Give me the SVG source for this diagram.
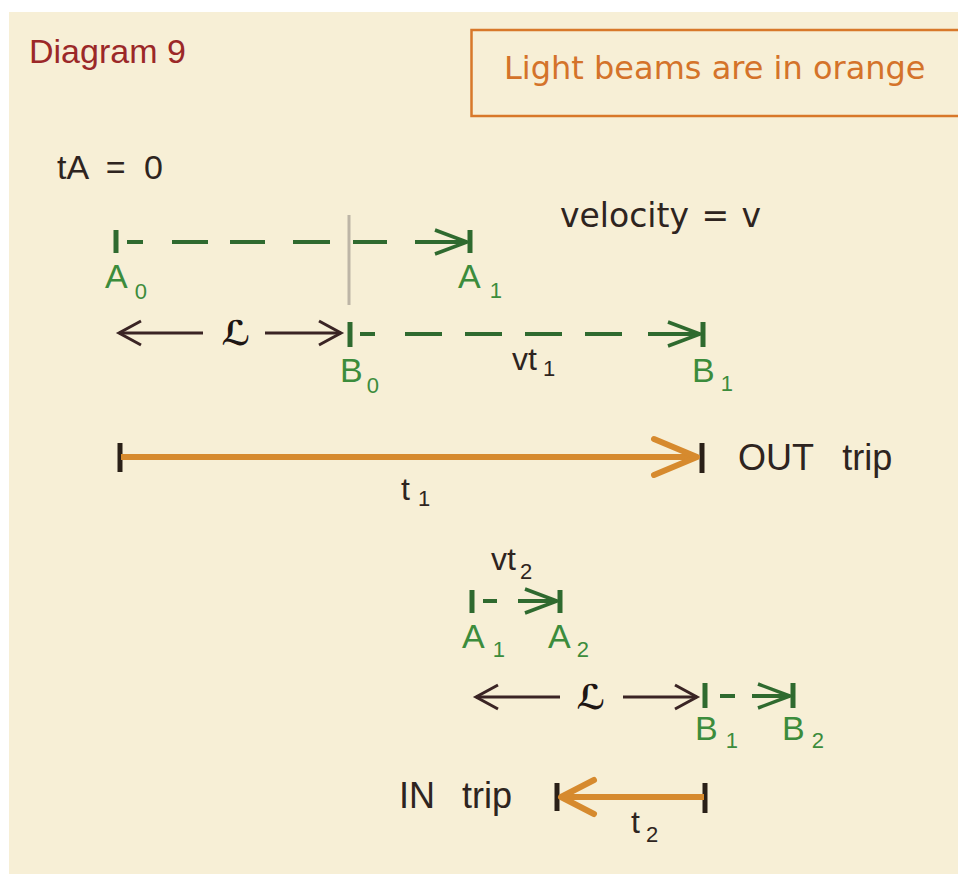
<svg xmlns="http://www.w3.org/2000/svg" width="958" height="874" viewBox="0 0 958 874">
<defs>
<style>
.bg{fill:#F7EFD6}
.sans{font-family:"Liberation Sans",Arial,sans-serif}
.dv{font-family:"DejaVu Sans",Verdana,sans-serif}
.lbl{font-family:"Liberation Sans",Arial,sans-serif;font-size:34px;fill:#3C8C3C}
.sub{font-size:22px}
.dark{fill:#2E2420}
.gtick{stroke:#2F6A2F;stroke-width:5;fill:none}
.dash{stroke:#2F6A2F;stroke-width:4;fill:none}
.larr{stroke:#3A2424;stroke-width:3;fill:none}
.beam{stroke:#D68A2E;stroke-width:6;fill:none}
.btick{stroke:#2A2018;stroke-width:5;fill:none}
.script{font-family:"DejaVu Serif","DejaVu Sans",serif;font-size:34px;font-weight:bold;font-style:italic;fill:#1E1614}
</style>
<marker id="gHead" markerUnits="userSpaceOnUse" markerWidth="40" markerHeight="32" refX="34" refY="15" orient="auto" overflow="visible">
<path d="M2,3 L34,15 L2,27" fill="none" stroke="#2F6A2F" stroke-width="3.5"/>
</marker>
<marker id="dHead" markerUnits="userSpaceOnUse" markerWidth="30" markerHeight="30" refX="24" refY="13" orient="auto" overflow="visible">
<path d="M2,1 L24,13 L2,25" fill="none" stroke="#3A2424" stroke-width="3"/>
</marker>
<marker id="oHead" markerUnits="userSpaceOnUse" markerWidth="50" markerHeight="40" refX="45" refY="19" orient="auto" overflow="visible">
<path d="M2,1 L45,19 L2,37" fill="none" stroke="#D68A2E" stroke-width="6" stroke-linejoin="round" stroke-linecap="round"/>
</marker>
<marker id="oHead2" markerUnits="userSpaceOnUse" markerWidth="40" markerHeight="40" refX="35" refY="19" orient="auto" overflow="visible">
<path d="M2,2 L35,19 L2,36" fill="none" stroke="#D68A2E" stroke-width="6" stroke-linejoin="round" stroke-linecap="round"/>
</marker>
</defs>

<rect class="bg" x="9" y="12" width="949" height="862"/>

<g id="title">
<text class="sans" x="29" y="63" font-size="34" fill="#9B2828">Diagram 9</text>
</g>

<g id="legend">
<rect x="471.5" y="30" width="500" height="86" fill="none" stroke="#D8782A" stroke-width="2.5"/>
<text class="dv" x="504" y="79" font-size="32" fill="#D4732A">Light beams are in orange</text>
</g>

<g id="tA-label">
<text class="sans dark" x="57" y="179" font-size="34" word-spacing="9">tA = 0</text>
</g>

<g id="velocity-label">
<text class="dv dark" x="560" y="227" font-size="33" word-spacing="2">velocity = v</text>
</g>

<g id="guide">
<line x1="349" y1="215" x2="349" y2="305" stroke="#BDB5A6" stroke-width="3"/>
</g>

<g id="A0">
<line class="gtick" x1="116" y1="230" x2="116" y2="253"/>
<text class="lbl" x="105" y="288">A<tspan class="sub" dx="7" dy="11">0</tspan></text>
</g>

<g id="A1">
<line class="gtick" x1="470" y1="230" x2="470" y2="253"/>
<text class="lbl" x="458" y="288">A<tspan class="sub" dx="9" dy="10">1</tspan></text>
</g>

<g id="B0">
<line class="gtick" x1="350" y1="322" x2="350" y2="347"/>
<text class="lbl" x="340" y="382">B<tspan class="sub" dx="4" dy="11">0</tspan></text>
</g>

<g id="B1">
<line class="gtick" x1="703" y1="322" x2="703" y2="347"/>
<text class="lbl" x="692" y="382">B<tspan class="sub" dx="6" dy="9">1</tspan></text>
</g>

<g id="out-trip">
<line class="btick" x1="120" y1="443" x2="120" y2="472"/>
<line class="btick" x1="702" y1="443" x2="702" y2="473"/>
<text class="sans dark" x="738" y="470" font-size="36" word-spacing="19">OUT trip</text>
<text class="sans dark" x="401" y="500" font-size="32">t<tspan class="sub" dx="8" dy="6">1</tspan></text>
</g>

<g id="vt1-label">
<text class="sans dark" x="512" y="370" font-size="32">vt<tspan class="sub" dx="6" dy="6">1</tspan></text>
</g>

<g id="vt2-label">
<text class="sans dark" x="491" y="570" font-size="32">vt<tspan class="sub" dx="4" dy="9">2</tspan></text>
</g>

<g id="A1-in">
<line class="gtick" x1="472" y1="590" x2="472" y2="613"/>
<text class="lbl" x="462" y="648">A<tspan class="sub" dx="8" dy="9">1</tspan></text>
</g>

<g id="A2">
<line class="gtick" x1="560" y1="590" x2="560" y2="613"/>
<text class="lbl" x="548" y="648">A<tspan class="sub" dx="6" dy="9">2</tspan></text>
</g>

<g id="B1-in">
<line class="gtick" x1="705" y1="683" x2="705" y2="708"/>
<text class="lbl" x="695" y="740">B<tspan class="sub" dx="8" dy="8">1</tspan></text>
</g>

<g id="B2">
<line class="gtick" x1="793" y1="683" x2="793" y2="708"/>
<text class="lbl" x="782" y="740">B<tspan class="sub" dx="7" dy="8">2</tspan></text>
</g>

<g id="in-trip">
<line class="btick" x1="557" y1="783" x2="557" y2="811"/>
<line class="btick" x1="705" y1="783" x2="705" y2="813"/>
<text class="sans dark" x="399" y="808" font-size="36" word-spacing="17">IN trip</text>
<text class="sans dark" x="631" y="833" font-size="32">t<tspan class="sub" dx="6" dy="9">2</tspan></text>
</g>

<g id="connectors">
<path class="dash" d="M127 242H143M172 242H208M230 242H265M293 242H330M353 242H387M415 242H467" marker-end="url(#gHead)"/>
<path class="dash" d="M360 334H375M405 334H442M465 334H502M525 334H562M585 334H622M648 334H700" marker-end="url(#gHead)"/>
<path class="larr" d="M203 333H119" marker-end="url(#dHead)"/>
<path class="larr" d="M265 333H341" marker-end="url(#dHead)"/>
<text class="script" x="236" y="345" text-anchor="middle">ℒ</text>
<path class="beam" d="M121 457H697" marker-end="url(#oHead)"/>
<path class="dash" d="M483 601H497M518 601H557" marker-end="url(#gHead)"/>
<path class="larr" d="M560 697H476" marker-end="url(#dHead)"/>
<path class="larr" d="M623 697H697" marker-end="url(#dHead)"/>
<text class="script" x="591" y="709" text-anchor="middle">ℒ</text>
<path class="dash" d="M720 696H735M752 696H790" marker-end="url(#gHead)"/>
<path class="beam" d="M704 797H561" marker-end="url(#oHead2)"/>
</g>
</svg>
